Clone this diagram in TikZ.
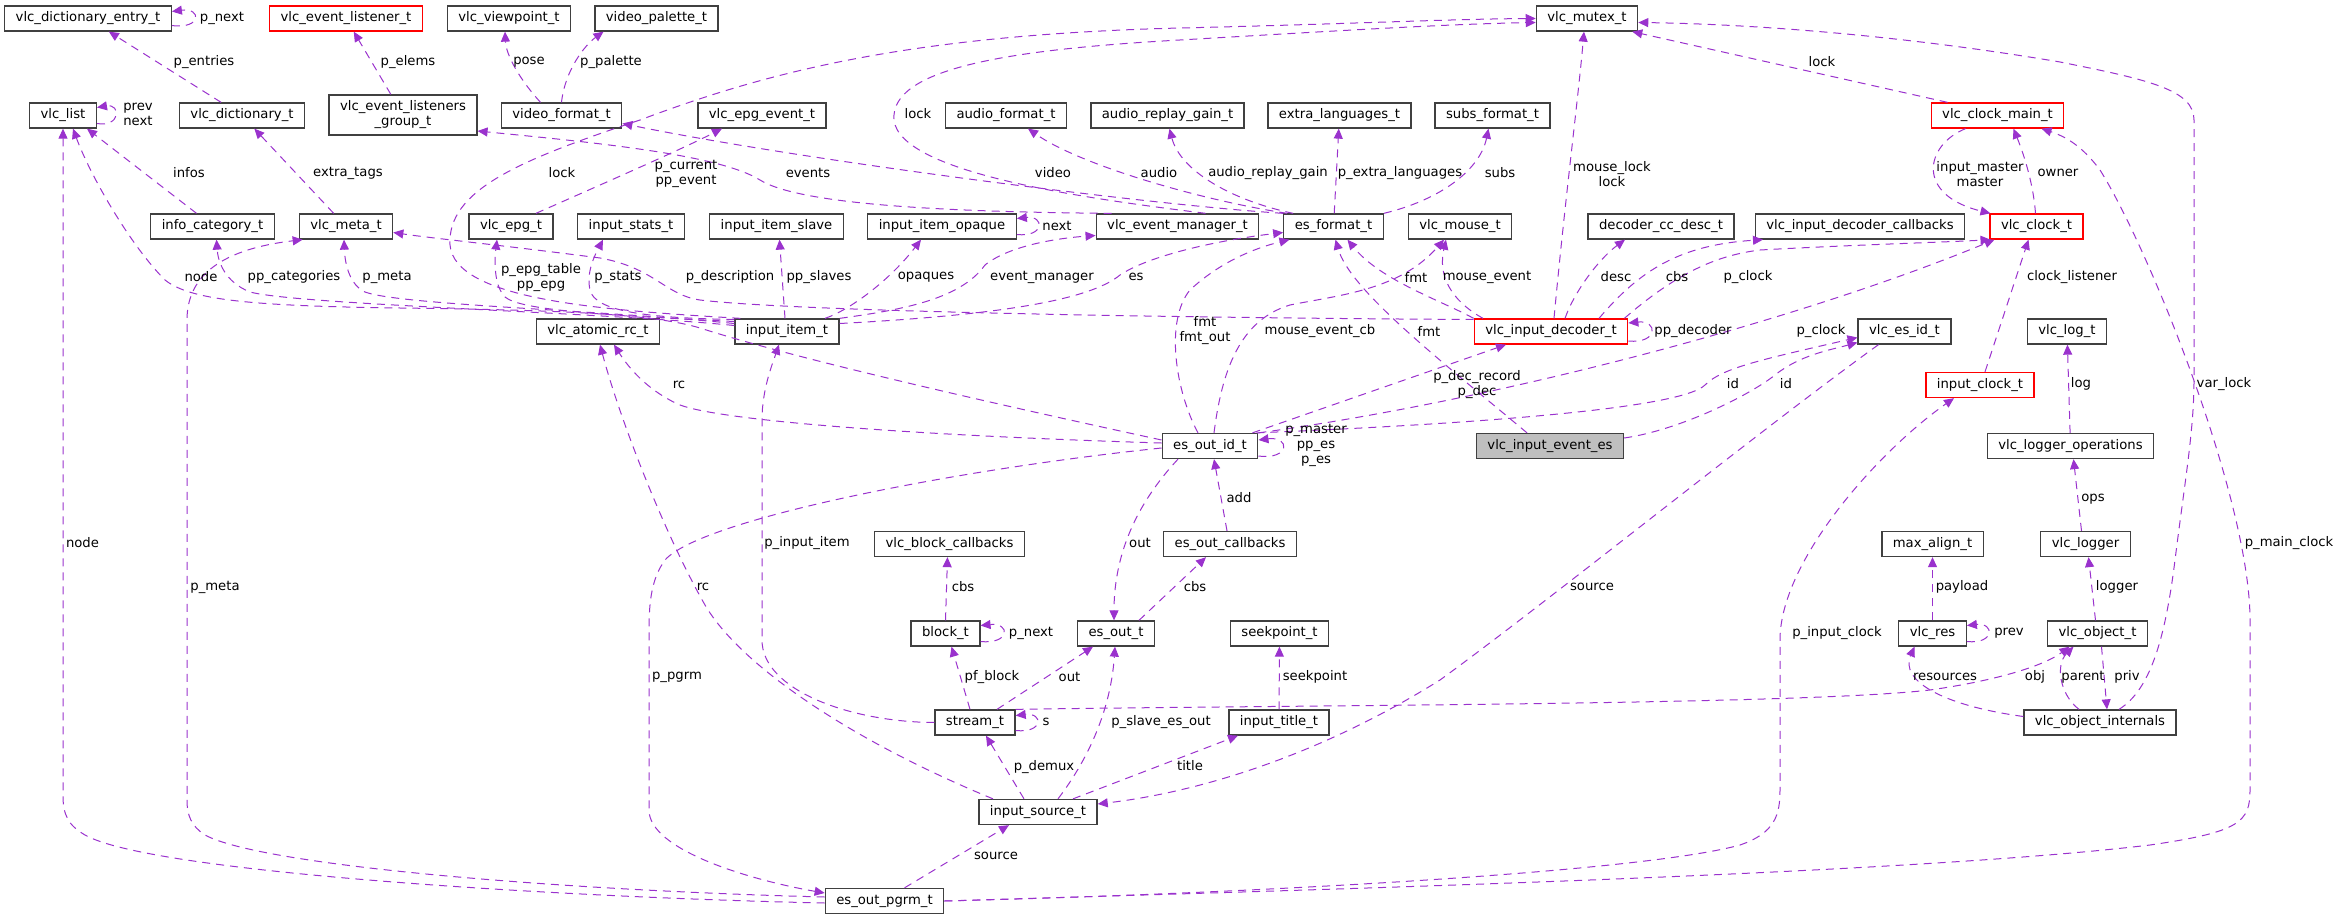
\documentclass[tikz,border=0pt]{standalone}
\usepackage{fontspec}
\setmainfont{DejaVu Sans}
\usepackage{xcolor}
\usepackage{tikz}
\usetikzlibrary{positioning,arrows.meta}

\definecolor{boxgray}{HTML}{404040}
\definecolor{boxred}{HTML}{FF0000}
\definecolor{edgepurple}{HTML}{9A32CD}
\definecolor{subjgray}{HTML}{BFBFBF}
\newcommand\grfont{\fontsize{6.6}{7.5}\selectfont}

\tikzset{
  box/.style={draw=boxgray, line width=0.65pt, fill=white, minimum height=12.5pt,
    inner xsep=5.5pt, inner ysep=0pt, font=\grfont},
  redbox/.style={box, draw=boxred},
  subjbox/.style={box, fill=subjgray},
  edge/.style={draw=edgepurple, line width=0.5pt, dash pattern=on 4pt off 3pt,
    -{Triangle[length=5pt,width=4.5pt]}},
  lbl/.style={font=\grfont, inner sep=0pt, align=center}
}

\begin{document}
\begin{tikzpicture}[x=0.5pt,y=-0.5pt]
\useasboundingbox (0,0) rectangle (2341,920);

\node[box] (dictentry) at (88,18.5) {vlc\_dictionary\_entry\_t};
\node[redbox] (evlistener) at (346,18.5) {vlc\_event\_listener\_t};
\node[box] (viewpoint) at (509,18.5) {vlc\_viewpoint\_t};
\node[box] (palette) at (656.5,18.5) {video\_palette\_t};
\node[box] (mutex) at (1587,18.5) {vlc\_mutex\_t};

\node[box] (vlclist) at (63,115.5) {vlc\_list};
\node[box] (dict) at (242,115.5) {vlc\_dictionary\_t};
\node[box, minimum height=20pt, align=center] (evgroup) at (403,115) {vlc\_event\_listeners\\\_group\_t};
\node[box] (vformat) at (561.5,115.5) {video\_format\_t};
\node[box] (epgevent) at (762,115.5) {vlc\_epg\_event\_t};
\node[box] (aformat) at (1006,115.5) {audio\_format\_t};
\node[box] (replaygain) at (1167.5,115.5) {audio\_replay\_gain\_t};
\node[box] (extralang) at (1339.5,115.5) {extra\_languages\_t};
\node[box] (subsformat) at (1492.5,115.5) {subs\_format\_t};
\node[redbox] (clockmain) at (1997.5,115.5) {vlc\_clock\_main\_t};

\node[box] (infocat) at (212.5,226.5) {info\_category\_t};
\node[box] (meta) at (346,226.5) {vlc\_meta\_t};
\node[box] (epg) at (511,226.5) {vlc\_epg\_t};
\node[box] (stats) at (631,226.5) {input\_stats\_t};
\node[box] (slave) at (776.5,226.5) {input\_item\_slave};
\node[box] (opaque) at (942,226.5) {input\_item\_opaque};
\node[box] (evmanager) at (1177.5,226.5) {vlc\_event\_manager\_t};
\node[box] (esformat) at (1333.5,226.5) {es\_format\_t};
\node[box] (mouse) at (1460,226.5) {vlc\_mouse\_t};
\node[box] (ccdesc) at (1661,226.5) {decoder\_cc\_desc\_t};
\node[box] (deccbs) at (1860,226.5) {vlc\_input\_decoder\_callbacks};
\node[redbox] (clock) at (2036.5,226.5) {vlc\_clock\_t};

\node[box] (atomicrc) at (598,331.5) {vlc\_atomic\_rc\_t};
\node[box] (inputitem) at (787,331.5) {input\_item\_t};
\node[redbox] (decoder) at (1551,331.5) {vlc\_input\_decoder\_t};
\node[box] (esid) at (1904.5,331.5) {vlc\_es\_id\_t};
\node[box] (logt) at (2067,331.5) {vlc\_log\_t};
\node[redbox] (inputclock) at (1980,385) {input\_clock\_t};

\node[box] (esoutid) at (1210,446) {es\_out\_id\_t};
\node[subjbox] (event) at (1550,446) {vlc\_input\_event\_es};
\node[box] (loggerops) at (2070.5,446) {vlc\_logger\_operations};

\node[box] (blockcbs) at (949.5,544) {vlc\_block\_callbacks};
\node[box] (esoutcbs) at (1230,544) {es\_out\_callbacks};
\node[box] (maxalign) at (1932.5,544) {max\_align\_t};
\node[box] (logger) at (2085.5,544) {vlc\_logger};

\node[box] (block) at (945.5,633.5) {block\_t};
\node[box] (esout) at (1116,633.5) {es\_out\_t};
\node[box] (seekpoint) at (1279.5,633.5) {seekpoint\_t};
\node[box] (res) at (1932.5,633.5) {vlc\_res};
\node[box] (object) at (2097.5,633.5) {vlc\_object\_t};

\node[box] (stream) at (975,722.5) {stream\_t};
\node[box] (title) at (1279,722.5) {input\_title\_t};
\node[box] (objinternals) at (2100,722.5) {vlc\_object\_internals};

\node[box] (source) at (1038,812) {input\_source\_t};
\node[box] (pgrm) at (884.5,901) {es\_out\_pgrm\_t};

% upper part
\draw[edge] ([yshift=-3.5pt]dictentry.east) .. controls +(30,4) and +(30,-4) .. ([yshift=3.5pt]dictentry.east);
\draw[edge] (dict) -- (dictentry);
\draw[edge] (evgroup) -- (evlistener);
\draw[edge] ([xshift=-10.5pt]vformat.north) .. controls (520,80) and (506,55) .. ([xshift=-2pt]viewpoint.south);
\draw[edge] (vformat.north) .. controls (565,70) and (585,45) .. ([xshift=-26.5pt]palette.south);
\draw[edge] ([yshift=-4pt]vlclist.east) .. controls +(24,4) and +(24,-4) .. ([yshift=4pt]vlclist.east);
\draw[edge] ([xshift=-8pt]infocat.north) -- ([xshift=12pt]vlclist.south);
\draw[edge] (meta) -- (dict);
\draw[edge] ([xshift=12.5pt]epg.north) .. controls (600,185) and (680,150) .. ([xshift=-20pt]epgevent.south);
\draw[edge] ([xshift=-33pt]evmanager.north) .. controls (950,212) and (800,205) .. (760,180) .. controls (720,155) and (600,143) .. ([yshift=-8pt]evgroup.east);
\draw[edge] ([xshift=14pt]evmanager.north) .. controls (1100,200) and (900,175) .. (894,120) .. controls (890,70) and (1000,50) .. (1180,40) .. controls (1350,30) and (1450,24) .. ([yshift=-2pt]mutex.west);
\draw[edge] (esformat.north west) .. controls (1150,205) and (800,160) .. ([yshift=-4pt]vformat.east);
\draw[edge] ([xshift=2pt]esformat.north west) .. controls (1200,200) and (1080,165) .. ([xshift=11pt]aformat.south);
\draw[edge] ([xshift=5pt]esformat.north west) .. controls (1230,200) and (1180,170) .. ([xshift=1pt]replaygain.south);
\draw[edge] (esformat) -- (extralang);
\draw[edge] (esformat.north east) .. controls (1440,200) and (1480,170) .. ([xshift=-2pt]subsformat.south);
\draw[edge] ([xshift=3pt]inputitem.north west) .. controls (600,310) and (455,300) .. (450,245) .. controls (447,190) and (520,160) .. (640,120) .. controls (760,75) and (900,35) .. (1180,28) .. controls (1350,24) and (1450,19) .. (mutex.west);
\draw[edge] ([xshift=-25pt]clockmain.north) -- ([xshift=-3pt]mutex.south east);
\draw[edge] ([xshift=9.5pt]objinternals.north) .. controls (2150,690) and (2165,640) .. (2175,560) .. controls (2185,480) and (2194,430) .. (2194,380) -- (2194,120) .. controls (2194,90) and (2150,80) .. (2060,62) .. controls (1900,35) and (1750,24) .. ([yshift=-2pt]mutex.east);
\draw[edge] ([xshift=1.5pt]decoder.north) .. controls (1565,200) and (1578,100) .. ([xshift=-1.5pt]mutex.south);
\draw[edge] ([xshift=7pt]decoder.north) .. controls (1575,290) and (1600,258) .. ([xshift=-18pt]ccdesc.south);
\draw[edge] ([xshift=24pt]decoder.north) .. controls (1640,270) and (1680,245) .. ([xshift=-48.5pt]deccbs.south);
\draw[edge] ([xshift=-2pt]decoder.north east) .. controls (1680,270) and (1720,255) .. (1760,250) .. controls (1850,245) and (1950,242) .. ([xshift=-23pt]clock.south);
\draw[edge] ([xshift=-0.5pt]clock.north) .. controls (2033,180) and (2022,150) .. ([xshift=8pt]clockmain.south);
\draw[edge] ([xshift=-16pt]clockmain.south) .. controls (1925,145) and (1915,195) .. ([xshift=-23pt]clock.north);
\draw[edge] ([xshift=2.5pt]inputclock.north) -- ([xshift=-4pt]clock.south);

% input item
\draw[edge] ([yshift=3pt]inputitem.west) .. controls (600,312) and (300,305) .. (250,292) .. controls (225,282) and (218,262) .. ([xshift=2pt]infocat.south);
\draw[edge] ([yshift=4pt]inputitem.west) .. controls (600,310) and (400,305) .. (365,292) .. controls (350,285) and (345,265) .. ([xshift=-1pt]meta.south);
\draw[edge] ([yshift=5pt]inputitem.west) .. controls (600,315) and (520,310) .. (505,297) .. controls (495,287) and (494,265) .. ([xshift=-7pt]epg.south);
\draw[edge] ([yshift=6pt]inputitem.west) .. controls (650,318) and (595,312) .. (590,290) .. controls (586,272) and (595,255) .. ([xshift=-14pt]stats.south);
\draw[edge] ([xshift=-1pt]inputitem.north) -- ([xshift=1.5pt]slave.south);
\draw[edge] ([xshift=19pt]inputitem.north) .. controls (850,310) and (890,280) .. ([xshift=-10.5pt]opaque.south);
\draw[edge] ([yshift=-4pt]opaque.east) .. controls +(28,3) and +(28,-3) .. ([yshift=4pt]opaque.east);
\draw[edge] (inputitem.north east) .. controls (900,310) and (960,300) .. (985,265) .. controls (1010,245) and (1060,238) .. ([yshift=-4.5pt]evmanager.west);
\draw[edge] ([yshift=4pt]inputitem.east) .. controls (1000,315) and (1090,300) .. (1120,275) .. controls (1150,255) and (1220,240) .. ([yshift=-3pt]esformat.west);

% es out id
\draw[edge] ([yshift=3pt]esoutid.west) .. controls (1000,405) and (800,360) .. (700,328) .. controls (650,313) and (550,310) .. (400,308) .. controls (250,306) and (190,300) .. (165,280) .. controls (130,245) and (90,175) .. ([xshift=5pt]vlclist.south);
\draw[edge] ([yshift=1.5pt]esoutid.west) .. controls (900,435) and (720,420) .. (680,405) .. controls (650,392) and (630,370) .. ([xshift=8pt]atomicrc.south);
\draw[edge] ([yshift=-1pt]esoutid.west) .. controls (950,470) and (700,520) .. (665,560) .. controls (652,578) and (649,600) .. (649,630) -- (649,810) .. controls (649,850) and (750,880) .. ([yshift=4pt]pgrm.west);
\draw[edge] ([xshift=-16pt]esoutid.south) .. controls (1140,500) and (1114,550) .. ([xshift=-1pt]esout.north);
\draw[edge] ([xshift=-6pt]esoutid.north) .. controls (1175,390) and (1165,320) .. (1190,290) .. controls (1220,262) and (1255,248) .. ([xshift=-22pt]esformat.south);
\draw[edge] ([xshift=2pt]esoutid.north) .. controls (1222,370) and (1240,320) .. (1290,305) .. controls (1340,295) and (1400,290) .. ([xshift=-8pt]mouse.south);
\draw[edge] ([xshift=-3pt]esoutid.north east) -- ([xshift=-22.5pt]decoder.south);
\draw[edge] ([yshift=-5pt]esoutid.east) .. controls +(32,4) and +(32,-4) .. ([yshift=3pt]esoutid.east);
\draw[edge] ([xshift=-1pt]esoutid.north east) .. controls (1450,425) and (1680,410) .. (1705,385) .. controls (1722,368) and (1760,360) .. ([yshift=-3pt]esid.west);
\draw[edge] (esoutid.north east) .. controls (1500,400) and (1800,320) .. ([xshift=-21pt]clock.south);
\draw[edge] ([xshift=-1.5pt]esoutcbs.north) -- ([xshift=2pt]esoutid.south);

% decoder and event
\draw[edge] (decoder.north west) .. controls (1440,300) and (1380,280) .. ([xshift=7pt]esformat.south);
\draw[edge] ([xshift=-34pt]decoder.north) .. controls (1450,300) and (1438,275) .. ([xshift=-7pt]mouse.south);
\draw[edge] ([yshift=6pt]decoder.west) .. controls (1200,318) and (800,312) .. (700,300) .. controls (665,295) and (655,268) .. (600,258) .. controls (500,245) and (430,238) .. ([yshift=-3pt]meta.east);
\draw[edge] ([yshift=-4.75pt]decoder.east) .. controls +(30,3) and +(30,-3) .. ([yshift=4.25pt]decoder.east);
\draw[edge] ([xshift=-11.5pt]event.north) .. controls (1440,360) and (1350,290) .. ([xshift=1pt]esformat.south);
\draw[edge] ([yshift=4pt]event.east) .. controls (1680,430) and (1750,395) .. (1775,375) .. controls (1800,355) and (1830,350) .. ([yshift=-5.5pt]esid.west);
\draw[edge] ([xshift=-13pt]esid.south) .. controls (1760,430) and (1550,600) .. (1440,680) .. controls (1320,755) and (1200,792) .. ([yshift=4pt]source.east);

% lower part
\draw[edge] (stream.west) .. controls (850,722) and (762,690) .. (762,640) -- (762,420) .. controls (762,390) and (772,365) .. ([xshift=-4pt]inputitem.south);
\draw[edge] ([xshift=-22.5pt]source.north) .. controls (850,740) and (740,665) .. (705,605) .. controls (665,535) and (620,420) .. ([xshift=1pt]atomicrc.south);
\draw[edge] ([xshift=11.5pt]esout.north) -- ([xshift=-12pt]esoutcbs.south);
\draw[edge] (block.north) -- ([xshift=-1pt]blockcbs.south);
\draw[edge] ([yshift=-4pt]block.east) .. controls +(30,3) and +(30,-3) .. ([yshift=4pt]block.east);
\draw[edge] ([xshift=-2.5pt]stream.north) -- ([xshift=3pt]block.south);
\draw[edge] ([xshift=11pt]stream.north) -- ([xshift=-11.5pt]esout.south);
\draw[edge] ([yshift=-4pt]stream.east) .. controls +(28,3) and +(28,-3) .. ([yshift=3.5pt]stream.east);
\draw[edge] ([xshift=-7pt]source.north) -- ([xshift=5.5pt]stream.south);
\draw[edge] ([xshift=10pt]source.north) .. controls (1080,770) and (1110,720) .. ([xshift=-0.5pt]esout.south);
\draw[edge] ([xshift=17.5pt]source.north) -- ([xshift=-20.5pt]title.south);
\draw[edge] (title) -- (seekpoint);
\draw[edge] ([xshift=10pt]pgrm.north) -- ([xshift=-14.5pt]source.south);
\draw[edge] ([yshift=-1pt]pgrm.west) .. controls (550,897) and (150,872) .. (85,835) .. controls (68,825) and (63,815) .. (63,795) -- (vlclist.south);
\draw[edge] ([yshift=2pt]pgrm.west) .. controls (550,890) and (260,865) .. (205,835) .. controls (191,826) and (187,815) .. (187,800) -- (187,320) .. controls (187,280) and (215,250) .. ([xshift=2pt]meta.south west);
\draw[edge] (pgrm.east) .. controls (1300,890) and (1900,875) .. (2150,845) .. controls (2240,832) and (2250,822) .. (2250,790) -- (2250,620) .. controls (2250,500) and (2150,250) .. (2100,170) .. controls (2085,150) and (2070,138) .. ([xshift=22pt]clockmain.south);
\draw[edge] (pgrm.east) .. controls (1300,892) and (1650,870) .. (1740,845) .. controls (1775,833) and (1780,815) .. (1780,790) -- (1780,640) .. controls (1780,560) and (1880,450) .. ([xshift=-13pt]inputclock.south);

% objects and logger
\draw[edge] (stream.north east) .. controls (1300,705) and (1800,705) .. (1930,690) .. controls (2000,680) and (2045,665) .. ([xshift=-14pt]object.south);
\draw[edge] ([yshift=3pt]objinternals.west) .. controls (1940,705) and (1900,680) .. ([xshift=-9pt]res.south);
\draw[edge] ([xshift=-10.5pt]objinternals.north) .. controls (2060,695) and (2055,665) .. ([xshift=-12pt]object.south);
\draw[edge] ([xshift=2pt]object.south) -- ([xshift=3.5pt]objinternals.north);
\draw[edge] ([yshift=-4pt]res.east) .. controls +(28,3) and +(28,-3) .. ([yshift=4pt]res.east);
\draw[edge] (res) -- (maxalign);
\draw[edge] ([xshift=-1pt]object.north) -- ([xshift=1.5pt]logger.south);
\draw[edge] ([xshift=-2pt]logger.north) -- ([xshift=1.5pt]loggerops.south);
\draw[edge] (loggerops) -- (logt);

% labels
\node[lbl] (l01) at (222,18) {p\_next};
\node[lbl] (l02) at (204,62) {p\_entries};
\node[lbl] (l03) at (408,62) {p\_elems};
\node[lbl] (l04) at (529,62) {pose};
\node[lbl] (l05) at (611,62) {p\_palette};
\node[lbl] (l06) at (1822,62) {lock};
\node[lbl] (l07) at (918,114) {lock};
\node[lbl] (l08) at (138,114.5) {prev\\next};
\node[lbl] (l09) at (189,173) {infos};
\node[lbl] (l10) at (348,173) {extra\_tags};
\node[lbl] (l11) at (562,173) {lock};
\node[lbl] (l12) at (686,174) {p\_current\\pp\_event};
\node[lbl] (l13) at (808,173) {events};
\node[lbl] (l14) at (1053,173) {video};
\node[lbl] (l15) at (1159,173) {audio};
\node[lbl] (l16) at (1268,173) {audio\_replay\_gain};
\node[lbl] (l17) at (1400,173) {p\_extra\_languages};
\node[lbl] (l18) at (1500,173) {subs};
\node[lbl] (l19) at (1612,174) {mouse\_lock\\lock};
\node[lbl] (l20) at (1980,174) {input\_master\\master};
\node[lbl] (l21) at (2058,173) {owner};
\node[lbl] (l22) at (1057,226) {next};
\node[lbl] (l23) at (201,277) {node};
\node[lbl] (l24) at (294,277) {pp\_categories};
\node[lbl] (l25) at (387,277) {p\_meta};
\node[lbl] (l26) at (541,278) {p\_epg\_table\\pp\_epg};
\node[lbl] (l27) at (618,277) {p\_stats};
\node[lbl] (l28) at (730,277) {p\_description};
\node[lbl] (l29) at (819,277) {pp\_slaves};
\node[lbl] (l30) at (926,277) {opaques};
\node[lbl] (l31) at (1042,277) {event\_manager};
\node[lbl] (l32) at (1136,277) {es};
\node[lbl] (l33) at (1416,277) {fmt};
\node[lbl] (l34) at (1487,277) {mouse\_event};
\node[lbl] (l35) at (1616,277) {desc};
\node[lbl] (l36) at (1677,277) {cbs};
\node[lbl] (l37) at (1748,277) {p\_clock};
\node[lbl] (l38) at (2072,277) {clock\_listener};
\node[lbl] (l39) at (1205,331) {fmt\\fmt\_out};
\node[lbl] (l40) at (1320,331) {mouse\_event\_cb};
\node[lbl] (l41) at (1429,331) {fmt};
\node[lbl] (l42) at (1693,331) {pp\_decoder};
\node[lbl] (l43) at (1821,331) {p\_clock};
\node[lbl] (l44) at (1477,384.5) {p\_dec\_record\\p\_dec};
\node[lbl] (l45) at (1733,384) {id};
\node[lbl] (l46) at (1786,384) {id};
\node[lbl] (l47) at (679,385) {rc};
\node[lbl] (l48) at (2081,384) {log};
\node[lbl] (l49) at (2224,384) {var\_lock};
\node[lbl] (l50) at (1316,445.5) {p\_master\\pp\_es\\p\_es};
\node[lbl] (l51) at (1239,498) {add};
\node[lbl] (l52) at (2093,499) {ops};
\node[lbl] (l53) at (82.5,543) {node};
\node[lbl] (l54) at (807,543) {p\_input\_item};
\node[lbl] (l55) at (1140,543) {out};
\node[lbl] (l56) at (2289,543) {p\_main\_clock};
\node[lbl] (l57) at (703,587) {rc};
\node[lbl] (l58) at (963,587) {cbs};
\node[lbl] (l59) at (1195,587) {cbs};
\node[lbl] (l60) at (215,587) {p\_meta};
\node[lbl] (l61) at (1592,587) {source};
\node[lbl] (l62) at (1962,587) {payload};
\node[lbl] (l63) at (2117,587) {logger};
\node[lbl] (l64) at (1031,633) {p\_next};
\node[lbl] (l65) at (1837,633) {p\_input\_clock};
\node[lbl] (l66) at (2009,633) {prev};
\node[lbl] (l67) at (677,677) {p\_pgrm};
\node[lbl] (l68) at (992,677) {pf\_block};
\node[lbl] (l69) at (1069.5,677) {out};
\node[lbl] (l70) at (1315,677) {seekpoint};
\node[lbl] (l71) at (1945,677) {resources};
\node[lbl] (l72) at (2035,677) {obj};
\node[lbl] (l73) at (2083,677) {parent};
\node[lbl] (l74) at (2127,677) {priv};
\node[lbl] (l75) at (1046,722) {s};
\node[lbl] (l76) at (1161,722) {p\_slave\_es\_out};
\node[lbl] (l77) at (1044,767) {p\_demux};
\node[lbl] (l78) at (1190,766) {title};
\node[lbl] (l79) at (996,856) {source};
\end{tikzpicture}
\end{document}
